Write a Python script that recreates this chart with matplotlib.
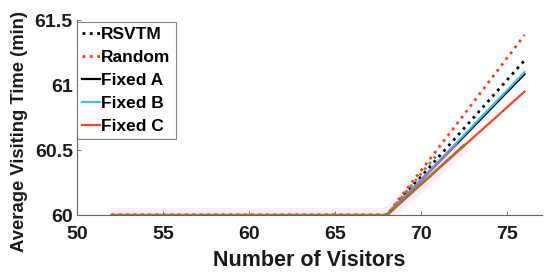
import matplotlib
matplotlib.use("Agg")
import matplotlib.pyplot as plt
from matplotlib.ticker import FuncFormatter

plt.rcParams['font.family'] = ['Liberation Sans', 'DejaVu Sans']
plt.rcParams['font.weight'] = 'bold'

visitors = [52, 56, 60, 64, 68, 72, 76]
rsvtm   = [60, 60, 60, 60, 60, 60.595, 61.19]
random_ = [60, 60, 60, 60, 60, 60.69, 61.385]
fixed_a = [60, 60, 60, 60, 60, 60.54, 61.085]
fixed_b = [60, 60, 60, 60, 60, 60.55, 61.10]
fixed_c = [60, 60, 60, 60, 60, 60.475, 60.95]

# partly hidden underlying series visible near the knee
under_x = [52, 60, 68, 72.5]
under_y = [60, 60, 60, 60.54]
under2_x = [68, 72]
under2_y = [60, 60.54]
under3_x = [68, 71]
under3_y = [60, 60.48]

fig = plt.figure(figsize=(5.5, 2.79), dpi=100)
ax = fig.add_axes([0.14, 0.229, 0.845, 0.699])

ax.plot(under_x, under_y, color='#fdeafa', lw=10, solid_capstyle='butt', zorder=1)
l1, = ax.plot(visitors, rsvtm, ':', color='black', lw=2, label='RSVTM', zorder=3)
l2, = ax.plot(visitors, random_, ':', color='#ff3c28', lw=2, label='Random', zorder=3)
l3, = ax.plot(visitors, fixed_a, '-', color='black', lw=1.6, label='Fixed A', zorder=3)
l4, = ax.plot(visitors, fixed_b, '-', color='#3ec1e8', lw=1.6, label='Fixed B', zorder=3)
l5, = ax.plot(visitors, fixed_c, '-', color='#ff4427', lw=1.6, label='Fixed C', zorder=3)
ax.plot(under3_x, under3_y, ':', color='#8a8a3a', lw=2, zorder=4)
ax.plot(under2_x, under2_y, '-', color='#9a78c8', lw=1.6, zorder=4)
ax.plot(under_x, under_y, '-', color='#9a7a2a', lw=1.8, zorder=5)

ax.set_xlim(50, 77)
ax.set_ylim(60, 61.5)
ax.set_xticks([50, 55, 60, 65, 70, 75])
ax.set_yticks([60, 60.5, 61, 61.5])
ax.yaxis.set_major_formatter(FuncFormatter(lambda v, p: ('%g' % v)))
ax.spines['top'].set_visible(False)
ax.spines['right'].set_visible(False)
for s in ['left', 'bottom']:
    ax.spines[s].set_color('#666666')
    ax.spines[s].set_linewidth(0.8)
ax.tick_params(direction='in', length=3, width=0.6, colors='#666666',
               labelsize=14, labelcolor='#1a1a1a')
ax.tick_params(axis='x', pad=8)
ax.tick_params(axis='y', pad=3)
for t in ax.get_xticklabels() + ax.get_yticklabels():
    t.set_fontweight('bold')

ax.set_xlabel('Number of Visitors', fontsize=15.5, fontweight='bold', color='#1a1a1a', labelpad=5)
ax.set_ylabel('Average Visiting Time (min)', fontsize=13.3, fontweight='bold', color='#1a1a1a')
ax.yaxis.set_label_coords(-0.105, 0.43)

leg = ax.legend(handles=[l1, l2, l3, l4, l5], loc='upper left', bbox_to_anchor=(0.0, 0.99),
                fontsize=12.5, frameon=True, fancybox=False, edgecolor='#666666',
                handlelength=1.0, handletextpad=0.1, labelspacing=0.45,
                borderpad=0.3, borderaxespad=0.0)
leg.get_frame().set_linewidth(0.8)
for t in leg.get_texts():
    t.set_fontweight('bold')

fig.savefig('out.png', dpi=100)
